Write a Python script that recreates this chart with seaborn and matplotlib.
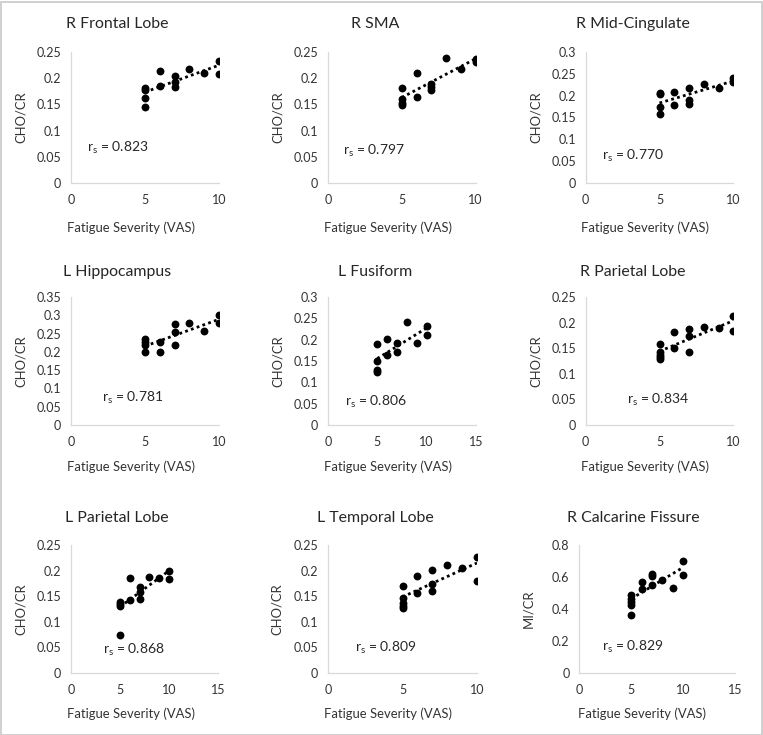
import matplotlib
matplotlib.use("Agg")
import numpy as np
import pandas as pd
import seaborn as sns
import matplotlib.pyplot as plt
from matplotlib.patches import Rectangle

# --- data (fatigue VAS vs metabolite ratio) ---
titles = ["R Frontal Lobe", "R SMA", "R Mid-Cingulate",
          "L Hippocampus", "L Fusiform", "R Parietal Lobe",
          "L Parietal Lobe", "L Temporal Lobe", "R Calcarine Fissure"]
rs_values = ["0.823", "0.797", "0.770", "0.781", "0.806", "0.834",
             "0.868", "0.809", "0.829"]
ylabels = ["CHO/CR"] * 8 + ["MI/CR"]
xmax = [10, 10, 10, 10, 15, 10, 15, 10, 15]
ymax = [0.25, 0.25, 0.3, 0.35, 0.3, 0.25, 0.25, 0.25, 0.8]
ystep = [0.05, 0.05, 0.05, 0.05, 0.05, 0.05, 0.05, 0.05, 0.2]

vas_a = [5, 5, 5, 5, 6, 6, 7, 7, 7, 8, 9, 10, 10]
vas_b = [5, 5, 5, 5, 6, 6, 7, 7, 8, 9, 10, 10]
vas_c = [5, 5, 5, 5, 5, 6, 6, 7, 7, 7, 8, 9, 10, 10]

r_frontal = [0.182, 0.177, 0.162, 0.145, 0.214, 0.185, 0.204, 0.193, 0.183, 0.217, 0.209, 0.233, 0.208]
r_sma = [0.182, 0.160, 0.152, 0.148, 0.210, 0.165, 0.189, 0.184, 0.177, 0.239, 0.218, 0.236, 0.230]
r_midcing = [0.206, 0.203, 0.174, 0.157, 0.209, 0.178, 0.218, 0.191, 0.182, 0.227, 0.217, 0.241, 0.231]
l_hippo = [0.234, 0.226, 0.218, 0.200, 0.228, 0.200, 0.275, 0.253, 0.218, 0.278, 0.258, 0.302, 0.280]
l_fusiform = [0.190, 0.150, 0.128, 0.124, 0.202, 0.165, 0.192, 0.171, 0.242, 0.193, 0.232, 0.210]
r_parietal = [0.158, 0.142, 0.137, 0.133, 0.129, 0.181, 0.151, 0.188, 0.174, 0.142, 0.192, 0.190, 0.213, 0.184]
l_parietal = [0.139, 0.134, 0.130, 0.075, 0.185, 0.143, 0.168, 0.159, 0.145, 0.187, 0.186, 0.199, 0.183]
l_temporal = [0.170, 0.147, 0.137, 0.131, 0.126, 0.189, 0.156, 0.201, 0.173, 0.160, 0.211, 0.205, 0.227, 0.179]
r_calcarine = [0.489, 0.462, 0.443, 0.423, 0.362, 0.570, 0.525, 0.620, 0.605, 0.548, 0.580, 0.532, 0.703, 0.613]

xs = [vas_a, vas_a, vas_a, vas_a, vas_b, vas_c, vas_a, vas_c, vas_c]
ys = [r_frontal, r_sma, r_midcing, l_hippo, l_fusiform, r_parietal,
      l_parietal, l_temporal, r_calcarine]

# position of the r_s label in data coords
rs_pos = [(1.08, 0.067), (1.02, 0.062), (1.1, 0.063), (2.1, 0.073), (1.7, 0.054),
          (2.8, 0.048), (3.27, 0.045), (1.8, 0.048), (2.19, 0.161)]

# --- layout in pixels ---
W, H = 763, 735
col_left = [[71, 328, 585.7], [71, 328, 585.7], [71, 328, 579.3]]
col_width = [[148, 147.5, 147.6], [148, 148, 147.6], [147, 149, 155.7]]
row_top = [52, 297, 545]
row_bot = [183, 425, 673]
xlab_y = [-0.29, -0.28, -0.27]
title_x = [117, 375, 633]
title_y = [24, 272, 518]

sns.set_theme(style="white")
plt.rcParams["font.family"] = ["Lato", "DejaVu Sans"]
plt.rcParams["mathtext.default"] = "regular"

fig = plt.figure(figsize=(W / 100, H / 100), dpi=100)
fig.patches.append(Rectangle((0.5 / W, 0.5 / H), 1 - 2 / W, 1 - 2 / H,
                             transform=fig.transFigure, fill=False,
                             edgecolor="#c8c8c8", linewidth=1.2))

for i in range(9):
    r, c = divmod(i, 3)
    left = col_left[r][c]
    width = col_width[r][c]
    ax = fig.add_axes([left / W, 1 - row_bot[r] / H, width / W,
                       (row_bot[r] - row_top[r]) / H])
    df = pd.DataFrame({"vas": xs[i], "ratio": ys[i]})
    sns.regplot(data=df, x="vas", y="ratio", ax=ax, ci=None, truncate=True,
                scatter_kws=dict(s=32, color="black", linewidths=0, alpha=1),
                line_kws=dict(color="black", linestyle=(0, (1, 1.2)), linewidth=2))
    ax.set_xlim(0, xmax[i])
    ax.set_ylim(0, ymax[i])
    ax.set_xticks(np.arange(0, xmax[i] + 0.1, 5))
    yt = np.arange(0, ymax[i] + ystep[i] / 2, ystep[i])
    ax.set_yticks(yt)
    ax.set_yticklabels([f"{v:g}" for v in np.round(yt, 3)])
    ax.tick_params(length=0, labelsize=9, labelcolor="#333333")
    ax.tick_params(axis="x", pad=8)
    ax.tick_params(axis="y", pad=7)
    for s in ["top", "right"]:
        ax.spines[s].set_visible(False)
    for s in ["left", "bottom"]:
        ax.spines[s].set_color("#d9d9d9")
        ax.spines[s].set_linewidth(0.9)
    ax.set_xlabel("Fatigue Severity (VAS)", fontsize=9.4, color="#333333")
    ax.set_ylabel(ylabels[i], fontsize=9.4, color="#333333")
    ax.xaxis.set_label_coords(0.405, xlab_y[r])
    ax.yaxis.set_label_coords(-0.30 if i != 8 else -0.29, 0.5)
    ax.text(rs_pos[i][0], rs_pos[i][1], "$r_s$ = " + rs_values[i],
            fontsize=10, color="#262626", va="center", ha="left")
    fig.text(title_x[c] / W, 1 - title_y[r] / H, titles[i], fontsize=11.4,
             color="#262626", ha="center", va="center")

fig.savefig("out.png", dpi=100)
